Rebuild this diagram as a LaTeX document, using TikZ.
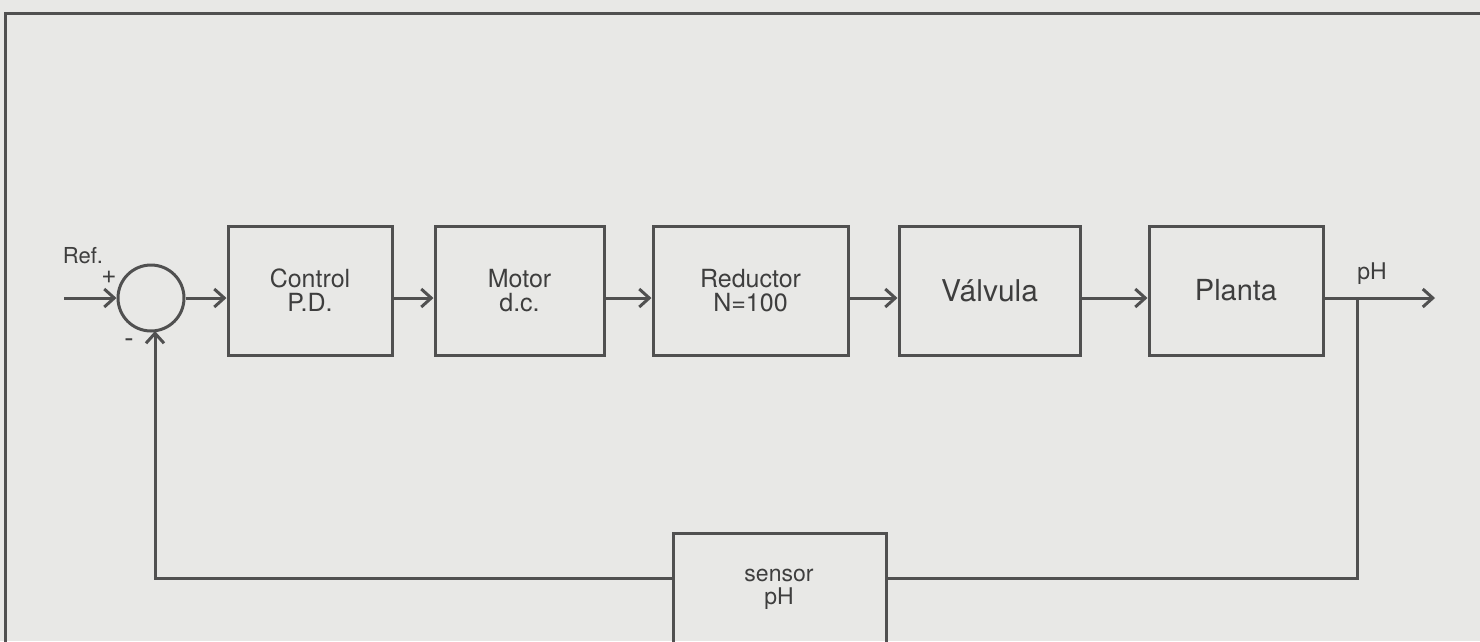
\documentclass[tikz,border=0pt]{standalone}
\usepackage{fontspec}
\setmainfont{TeX Gyre Heros}
\usetikzlibrary{arrows.meta,calc}
\definecolor{paper}{HTML}{E8E8E6}
\definecolor{ink}{HTML}{505050}
\definecolor{txt}{HTML}{3E3E3E}
\tikzset{
  blk/.style={draw=ink, line width=3pt, minimum height=129pt, inner sep=0pt, text=txt, align=center, font=\fontsize{25}{24}\selectfont},
  sig/.style={draw=ink, line width=3pt, -{Straight Barb[length=10pt,width=18pt,line width=3pt]}},
  wire/.style={draw=ink, line width=3pt},
  lbl/.style={text=txt, inner sep=0pt}
}
\begin{document}
\begin{tikzpicture}[x=1pt,y=-1pt]
\fill[paper] (0,0) rectangle (1480,641);
\useasboundingbox (0,0) rectangle (1480,641);
\clip (0,0) rectangle (1480,641);
% frame
\draw[ink, line width=3pt] (5,645) -- (5,13) -- (1485,13);
% sum junction
\node[draw=ink, line width=3pt, circle, minimum size=66pt, inner sep=0pt] (sum) at (151,298) {};
\coordinate (refin) at (64,298);
% blocks
\node[blk, minimum width=164pt] (ctrl) at (310,290.5) {Control\\P.D.};
\node[blk, minimum width=169pt] (motor) at (519.5,290.5) {Motor\\d.c.};
\node[blk, minimum width=195pt] (red) at (750.5,290.5) {Reductor\\N=100};
\node[blk, minimum width=181pt, font=\fontsize{30}{30}\selectfont] (valv) at (989.5,290.5) {Válvula};
\node[blk, minimum width=174pt, font=\fontsize{29}{29}\selectfont] (planta) at (1236,290.5) {Planta};
\node[blk, minimum width=213pt, minimum height=128pt, anchor=north west] (sensor) at (672,532) {};
\node[lbl, font=\fontsize{23}{23}\selectfont, align=center] (sensortxt) at (779,589) {sensor\\pH};
% labels
\node[lbl, font=\fontsize{22}{22}\selectfont] (ref) at (83,256) {Ref.};
\node[lbl, font=\fontsize{26}{26}\selectfont] (plus) at (109,277) {+};
\node[lbl, font=\fontsize{28}{28}\selectfont] (minus) at (129,343) {-};
\node[lbl, font=\fontsize{23}{23}\selectfont] (phout) at (1372,274) {pH};
% forward path
\coordinate (branch) at (1357,298);
\coordinate (out) at (1435,298);
\draw[sig] (refin) -- (sum.west);
\draw[sig] (sum.east) -- (ctrl.west |- sum);
\draw[sig] (ctrl.east |- sum) -- (motor.west |- sum);
\draw[sig] (motor.east |- sum) -- (red.west |- sum);
\draw[sig] (red.east |- sum) -- (valv.west |- sum);
\draw[sig] (valv.east |- sum) -- (planta.west |- sum);
\draw[sig] (planta.east |- sum) -- (out);
% feedback
\coordinate (fbr) at (1357,578);
\coordinate (fbl) at (155,578);
\draw[wire] (branch) -- (fbr) -- (sensor.east |- fbr);
\draw[sig] (sensor.west |- fbl) -- (fbl) -- (155,331);
\end{tikzpicture}
\end{document}
